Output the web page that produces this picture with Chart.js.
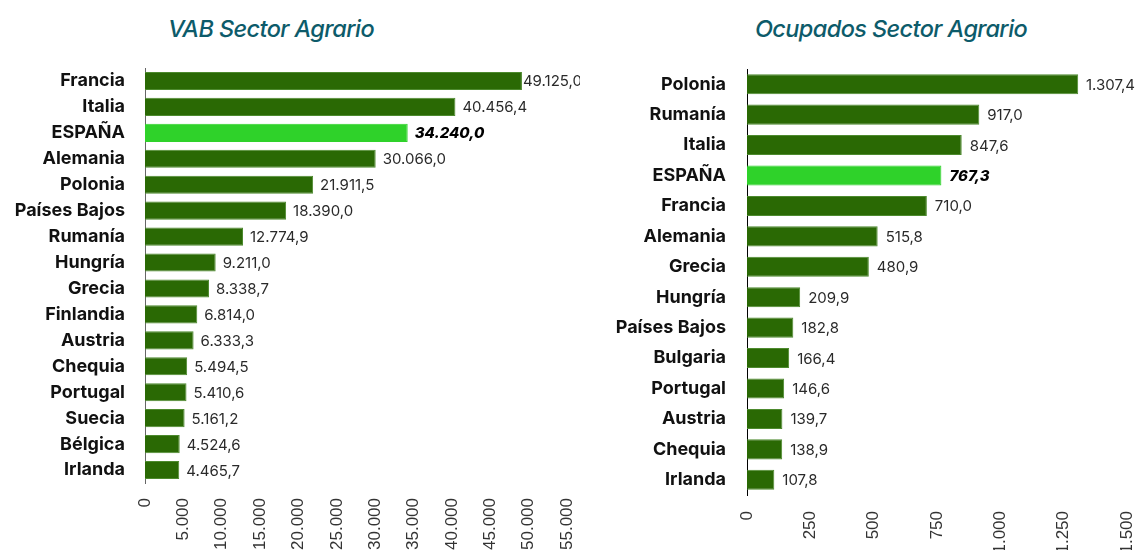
<!DOCTYPE html>
<html>
<head>
<meta charset="utf-8">
<script src="https://cdn.jsdelivr.net/npm/chart.js@4.4.1/dist/chart.umd.min.js"></script>
<style>
  html, body { margin: 0; padding: 0; background: #fff; }
  body { width: 1135px; height: 550px; position: relative; overflow: hidden; }
  .title { position: absolute; top: 14px; font-family: Inter, "Noto Sans", sans-serif; font-style: italic; font-weight: 500; font-size: 23.5px; color: #0d5b6a; white-space: nowrap; transform: translateX(-50%); letter-spacing: -0.6px; }
  .wrap { position: absolute; top: 0; height: 550px; }
</style>
</head>
<body>
<div class="title" style="left:271px">VAB Sector Agrario</div>
<div class="title" style="left:891px">Ocupados Sector Agrario</div>
<div class="wrap" style="left:0;width:580px"><canvas id="c1" width="580" height="550"></canvas></div>
<div class="wrap" style="left:580px;width:555px"><canvas id="c2" width="555" height="550"></canvas></div>
<script>
const vabCategories = ["Francia","Italia","ESPAÑA","Alemania","Polonia","Países Bajos","Rumanía","Hungría","Grecia","Finlandia","Austria","Chequia","Portugal","Suecia","Bélgica","Irlanda"];
const vabValues = [49125.0,40456.4,34240.0,30066.0,21911.5,18390.0,12774.9,9211.0,8338.7,6814.0,6333.3,5494.5,5410.6,5161.2,4524.6,4465.7];
const vabTicks = [0,5000,10000,15000,20000,25000,30000,35000,40000,45000,50000,55000];

const ocuCategories = ["Polonia","Rumanía","Italia","ESPAÑA","Francia","Alemania","Grecia","Hungría","Países Bajos","Bulgaria","Portugal","Austria","Chequia","Irlanda"];
const ocuValues = [1307.4,917.0,847.6,767.3,710.0,515.8,480.9,209.9,182.8,166.4,146.6,139.7,138.9,107.8];
const ocuTicks = [0,250,500,750,1000,1250,1500];

const highlight = "ESPAÑA";
const DARK = "#2a6904";
const BRIGHT = "#2fd22a";

function groupThousands(s) {
  return s.replace(/\B(?=(\d{3})+(?!\d))/g, ".");
}
function fmtTick(v) { return groupThousands(String(Math.round(v))); }
function fmtVal(v) {
  const parts = v.toFixed(1).split(".");
  return groupThousands(parts[0]) + "," + parts[1];
}

const valueLabels = {
  id: "valueLabels",
  afterDatasetsDraw(chart, args, opts) {
    const ctx = chart.ctx;
    const meta = chart.getDatasetMeta(0);
    const labels = chart.data.labels;
    const data = chart.data.datasets[0].data;
    ctx.save();
    ctx.textBaseline = "middle";
    ctx.textAlign = "left";
    meta.data.forEach((bar, i) => {
      const isH = labels[i] === highlight;
      ctx.font = isH ? "italic 800 15px Inter, 'Noto Sans', sans-serif" : "400 15px Inter, 'Noto Sans', sans-serif";
      ctx.fillStyle = isH ? "#000" : "#2a2a2a";
      const txt = fmtVal(data[i]);
      const w = ctx.measureText(txt).width;
      let x = bar.x + opts.gap;
      if (x + w > chart.width) x = Math.max(bar.x + 1, chart.width - w);
      ctx.fillText(txt, x, bar.y + 1);
    });
    ctx.restore();
  }
};

function makeChart(id, cats, vals, ticks, cfg) {
  return new Chart(document.getElementById(id), {
    type: "bar",
    data: {
      labels: cats,
      datasets: [{
        data: vals,
        backgroundColor: cats.map(c => c === highlight ? BRIGHT : DARK),
        borderColor: cats.map(c => c === highlight ? BRIGHT : "#4d8a2e"),
        borderWidth: 1,
        borderSkipped: "left",
        barPercentage: cfg.barPct,
        categoryPercentage: 1
      }]
    },
    options: {
      indexAxis: "y",
      responsive: false,
      animation: false,
      devicePixelRatio: 1,
      layout: { padding: { top: cfg.top, right: cfg.right, left: 0, bottom: 0 } },
      plugins: {
        legend: { display: false },
        tooltip: { enabled: false },
        valueLabels: { gap: cfg.gap }
      },
      scales: {
        x: {
          type: "linear",
          min: ticks[0],
          max: ticks[ticks.length - 1],
          afterBuildTicks(scale) { scale.ticks = ticks.map(v => ({ value: v })); },
          afterFit(scale) {
            scale.height = cfg.xHeight;
            scale.paddingLeft = 0;
            scale.paddingRight = 0;
          },
          grid: { display: false, drawTicks: false },
          border: { display: false },
          ticks: {
            minRotation: 90, maxRotation: 90, autoSkip: false,
            padding: cfg.xPad,
            color: "#333",
            font: { family: "'Liberation Sans', Arial, sans-serif", size: cfg.xFont },
            callback: v => fmtTick(v)
          }
        },
        y: {
          afterFit(scale) { scale.width = cfg.yWidth; },
          grid: { display: false, drawTicks: false },
          border: { display: true, color: cfg.axisColor, width: 1 },
          ticks: {
            padding: cfg.yPad,
            color: "#111",
            font: { family: "Inter, 'Noto Sans', sans-serif", size: 18, weight: "bold" }
          }
        }
      }
    },
    plugins: [valueLabels]
  });
}

makeChart("c1", vabCategories, vabValues, vabTicks, {
  top: 68, right: 13, xHeight: 67, yWidth: 145, yPad: 20, xPad: 15, xFont: 17,
  barPct: 0.7, gap: 7, axisColor: "#666"
});
makeChart("c2", ocuCategories, ocuValues, ocuTicks, {
  top: 69, right: 8, xHeight: 55, yWidth: 167, yPad: 21, xPad: 16, xFont: 17,
  barPct: 0.66, gap: 8, axisColor: "#000"
});
</script>
</body>
</html>
